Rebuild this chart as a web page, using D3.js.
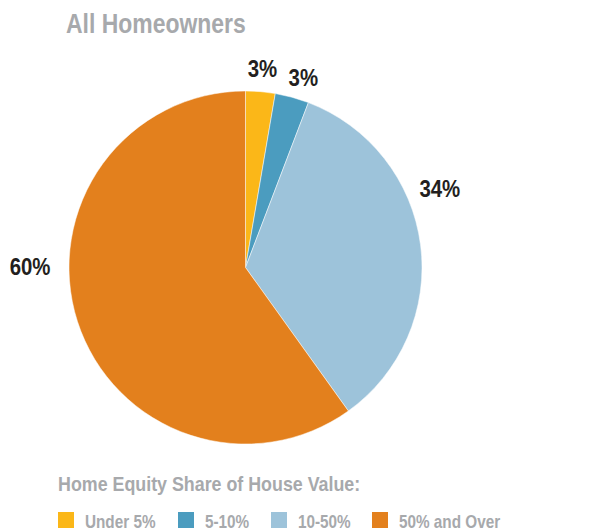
<!DOCTYPE html>
<html>
<head>
<meta charset="utf-8">
<script src="https://cdn.jsdelivr.net/npm/d3@7"></script>
<style>
  body { margin: 0; background: #fff; }
  svg text { font-family: "Liberation Sans", Arial, sans-serif; font-weight: bold; }
</style>
</head>
<body>
<svg width="605" height="531"></svg>
<script>
// Home equity share of house value, all homeowners (percent)
const categories = ["Under 5%", "5-10%", "10-50%", "50% and Over"];
const shares = [2.7, 3.1, 34.3, 59.9];
const colors = ["#fbb718", "#4b9cbf", "#9dc3da", "#e3801d"];

const svg = d3.select("svg"),
    cx = 245.5,
    cy = 267.5,
    radius = 176.5,
    narrow = 0.85; // no condensed face installed, so squeeze horizontally

const data = categories.map((c, i) => ({ category: c, value: shares[i] }));

const pie = d3.pie()
    .sort(null)
    .value(d => d.value);

const arc = d3.arc()
    .innerRadius(0)
    .outerRadius(radius);

const labelArc = d3.arc()
    .innerRadius(200)
    .outerRadius(200);

// hand nudges so labels sit where the original puts them
const labelNudge = [[0, 9], [5, 11], [-4, -45], [-25, -54]];

function squeezed(sel, x, y) {
    return sel.append("text")
        .attr("transform", `translate(${x},${y}) scale(${narrow},1)`);
}

squeezed(svg, 66, 33)
    .attr("fill", "#a7a9ac")
    .style("font-size", "27px")
    .text("All Homeowners");

const g = svg.append("g")
    .attr("transform", `translate(${cx},${cy})`);

const arcs = pie(data);

g.selectAll("path")
    .data(arcs)
    .enter().append("path")
    .attr("d", arc)
    .attr("fill", (d, i) => colors[i])
    .attr("stroke", "#fff")
    .attr("stroke-width", 0.5);

g.selectAll("text.pct")
    .data(arcs)
    .enter().append("text")
    .attr("class", "pct")
    .attr("transform", (d, i) => {
        const [x, y] = labelArc.centroid(d);
        return `translate(${x + labelNudge[i][0]},${y + labelNudge[i][1]}) scale(${narrow},1)`;
    })
    .attr("text-anchor", "middle")
    .attr("fill", "#231f20")
    .style("font-size", "24px")
    .text(d => Math.round(d.data.value) + "%");

squeezed(svg, 58, 491)
    .attr("fill", "#a7a9ac")
    .style("font-size", "21px")
    .text("Home Equity Share of House Value:");

const legendX = [58, 178, 271, 372];

const legend = svg.selectAll("g.legend")
    .data(categories)
    .enter().append("g")
    .attr("class", "legend")
    .attr("transform", (d, i) => `translate(${legendX[i]},512)`);

legend.append("rect")
    .attr("width", 16)
    .attr("height", 16)
    .attr("fill", (d, i) => colors[i]);

legend.append("text")
    .attr("transform", `translate(27,16) scale(${narrow},1)`)
    .attr("fill", "#a7a9ac")
    .style("font-size", "18px")
    .text(d => d);
</script>
</body>
</html>
